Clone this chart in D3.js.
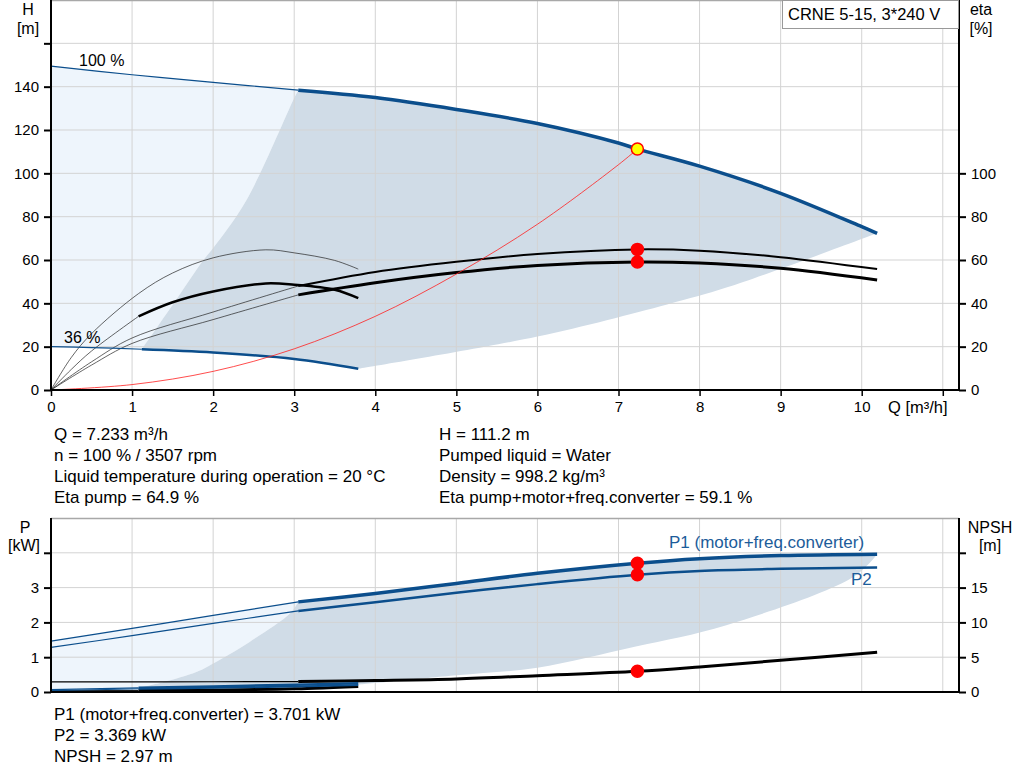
<!DOCTYPE html>
<html>
<head>
<meta charset="utf-8">
<script src="https://cdn.jsdelivr.net/npm/d3@7"></script>
<style>
body { margin: 0; background: #fff; }
text { font-family: "Liberation Sans", Arial, sans-serif; font-size: 17px; fill: #000; }
</style>
</head>
<body>
<script>
// values (Q in m3/h)

// head curves
var q100 = [0, 1, 2, 3.05, 4, 5, 6, 7, 7.233, 8, 9, 10, 10.19]
var h100 = [149.5, 145.5, 142, 138.4, 135, 129.5, 123, 114, 111.2, 103.3, 90.8, 75.4, 72.3]
var q36 = [0, 0.5, 1.12, 2, 3, 3.79]
var h36 = [20, 19.6, 18.8, 17.3, 14.3, 9.8]

// efficiency curves
var qEta100 = [0, 0.5, 1, 2, 3.05, 4, 5, 6, 7.233, 8, 9, 10.19]
var etaPump100 = [0, 13, 24, 36, 48, 54.5, 59.2, 62.8, 64.9, 64.3, 61.3, 55.8]
var etaTot100 = [0, 11.5, 21.5, 32.5, 43.9, 49.5, 54.2, 57.5, 59.1, 58.6, 56.2, 50.8]
var qEta36 = [0, 0.25, 0.5, 1.08, 1.5, 2, 2.65, 3, 3.5, 3.79]
var etaPump36 = [0, 15, 26, 44.5, 54, 61, 64.7, 63.3, 59.8, 55.8]
var etaTot36 = [0, 9.5, 18, 34, 40.5, 45.5, 49.2, 48.6, 46.3, 42.4]

// system curve
var qSys = [0, 1, 2, 3, 4, 5, 6, 7, 7.233]
var hSys = [0, 2.5, 8.6, 19, 34, 53.5, 76.5, 104, 111.2]

// operating range edges, head chart
var edgeQ = [1.12, 1.55, 1.88, 2.0, 2.41, 2.99, 3.05]
var edgeH = [18.8, 42, 60, 65.5, 87.6, 134, 138.4]
var lowQ = [3.79, 6.0, 7.6, 8.35, 10.19]
var lowH = [9.8, 24.7, 39.5, 47.5, 72.3]

// power / npsh curves
var qP100 = [0, 1, 2, 3.05, 4, 5, 6, 7.233, 8, 9, 10.19]
var p1_100 = [1.46, 1.83, 2.2, 2.59, 2.83, 3.12, 3.41, 3.70, 3.83, 3.92, 3.96]
var p2_100 = [1.28, 1.62, 1.97, 2.33, 2.58, 2.85, 3.10, 3.37, 3.48, 3.54, 3.58]
var npsh100 = [1.45, 1.45, 1.47, 1.5, 1.65, 1.87, 2.35, 2.97, 3.6, 4.55, 5.7]
var qP36 = [0, 1.08, 2, 3, 3.79]
var p1_36 = [0.07, 0.12, 0.16, 0.21, 0.25]
var p2_36 = [0.04, 0.09, 0.12, 0.16, 0.2]
var npsh36 = [0.19, 0.2, 0.27, 0.45, 0.8]

// operating range edges, power chart
var bEdgeQ = [1.08, 1.38, 1.8, 2.0, 2.45, 2.95, 3.05]
var bEdgeP = [0.12, 0.28, 0.58, 0.82, 1.44, 2.26, 2.59]
var bLowQ = [3.79, 5.0, 6.0, 7.2, 8.33, 9.9, 10.19]
var bLowP = [0.21, 0.48, 0.7, 1.3, 1.92, 3.31, 3.96]

// duty point
var dutyQ = 7.233
var dutyH = 111.2
var dutyEtaPump = 64.9
var dutyEtaTot = 59.1
var dutyP1 = 3.701
var dutyP2 = 3.369
var dutyNpsh = 2.97

// ticks and texts
var qTicks = [0, 1, 2, 3, 4, 5, 6, 7, 8, 9, 10, 11]
var qLabels = [0, 1, 2, 3, 4, 5, 6, 7, 8, 9, 10]
var hTicks = [0, 20, 40, 60, 80, 100, 120, 140, 160]
var hLabels = [0, 20, 40, 60, 80, 100, 120, 140]
var etaTicks = [0, 20, 40, 60, 80, 100]
var pTicks = [0, 1, 2, 3, 4]
var pLabels = [0, 1, 2, 3]
var npshTicks = [0, 5, 10, 15, 20]
var npshLabels = [0, 5, 10, 15]

var pumpName = "CRNE 5-15, 3*240 V"
var infoLeft = ["Q = 7.233 m³/h", "n = 100 % / 3507 rpm", "Liquid temperature during operation = 20 °C", "Eta pump = 64.9 %"]
var infoRight = ["H = 111.2 m", "Pumped liquid = Water", "Density = 998.2 kg/m³", "Eta pump+motor+freq.converter = 59.1 %"]
var infoBottom = ["P1 (motor+freq.converter) = 3.701 kW", "P2 = 3.369 kW", "NPSH = 2.97 m"]

var blue = "#0b4e8c"
var lightFill = "#eef5fc"
var darkFill = "#d0dce7"
var gridCol = "#d3d3d3"

var svg = d3.select("body").append("svg")
    .attr("width", 1024).attr("height", 781)

var x = d3.scaleLinear().domain([0, 11.2]).range([51, 959])
var yH = d3.scaleLinear().domain([0, 180]).range([390, 0])
var yEta = d3.scaleLinear().domain([0, 180]).range([390, 0])
var yP = d3.scaleLinear().domain([0, 5]).range([692, 518])
var yN = d3.scaleLinear().domain([0, 25]).range([692, 518])

function pts(qs, vs) { return qs.map(function(q, i) { return [q, vs[i]] }) }
function upTo(p, q) { return p.filter(function(d) { return d[0] <= q }) }
function from(p, q) { return p.filter(function(d) { return d[0] >= q }) }
function rev(p) { return p.slice().reverse() }

function makeLine(ys) {
    return d3.line().x(function(d) { return x(d[0]) }).y(function(d) { return ys(d[1]) })
        .curve(d3.curveCatmullRom.alpha(0.5))
}
var lineH = makeLine(yH)
var lineP = makeLine(yP)
var lineN = makeLine(yN)

// glue several curve pieces into one closed outline
function joinPath(gen, pieces) {
    return pieces.map(function(p, i) {
        var s = gen(p)
        return i ? "L" + s.slice(1) : s
    }).join("") + "Z"
}

var H100 = pts(q100, h100), H36 = pts(q36, h36)
var EDGE = pts(edgeQ, edgeH), LOW = pts(lowQ, lowH)
var P1 = pts(qP100, p1_100), P2 = pts(qP100, p2_100), N100 = pts(qP100, npsh100)
var P1s = pts(qP36, p1_36), P2s = pts(qP36, p2_36), N36 = pts(qP36, npsh36)
var BEDGE = pts(bEdgeQ, bEdgeP), BLOW = pts(bLowQ, bLowP)

// ---- fills ----
svg.append("path").attr("fill", lightFill)
    .attr("d", joinPath(lineH, [upTo(H100, 3.05), rev(EDGE), rev(upTo(H36, 1.12))]))
svg.append("path").attr("fill", darkFill)
    .attr("d", joinPath(lineH, [from(H100, 3.05), rev(LOW), rev(from(H36, 1.12)), EDGE]))
svg.append("path").attr("fill", lightFill)
    .attr("d", joinPath(lineP, [upTo(P1, 3.05), rev(BEDGE), rev(upTo(P1s, 1.08))]))
svg.append("path").attr("fill", darkFill)
    .attr("d", joinPath(lineP, [from(P1, 3.05), rev(BLOW), rev(from(P1s, 1.08)), BEDGE]))

// ---- grid ----
function grid(y0, y1, ys, vals) {
    var g = svg.append("g").attr("stroke", gridCol).attr("stroke-width", 1)
    g.selectAll(".v").data(qTicks.slice(1)).enter().append("line")
        .attr("x1", function(d) { return x(d) }).attr("x2", function(d) { return x(d) })
        .attr("y1", y0).attr("y2", y1)
    g.selectAll(".h").data(vals).enter().append("line")
        .attr("x1", x(0)).attr("x2", x(11.2))
        .attr("y1", function(d) { return ys(d) }).attr("y2", function(d) { return ys(d) })
}
grid(0, 390, yH, hTicks.slice(1))
grid(518, 692, yP, pTicks.slice(1))

// ---- curves ----
function curve(gen, data, col, w) {
    svg.append("path").attr("d", gen(data)).attr("fill", "none")
        .attr("stroke", col).attr("stroke-width", w)
}
var lineEta = makeLine(yEta)
var EP100 = pts(qEta100, etaPump100), ET100 = pts(qEta100, etaTot100)
var EP36 = pts(qEta36, etaPump36), ET36 = pts(qEta36, etaTot36)

curve(lineEta, EP36, "#222", 0.7)
curve(lineEta, upTo(ET36, 1.08), "#222", 0.7)
curve(lineEta, from(ET36, 1.08), "#000", 2.5)
curve(lineEta, upTo(EP100, 3.05), "#222", 0.7)
curve(lineEta, from(EP100, 3.05), "#000", 2)
curve(lineEta, upTo(ET100, 3.05), "#222", 0.7)
curve(lineEta, from(ET100, 3.05), "#000", 3)

curve(lineH, upTo(H36, 1.12), blue, 1.2)
curve(lineH, from(H36, 1.12), blue, 2.5)
curve(lineH, upTo(H100, 3.05), blue, 1.2)
curve(lineH, from(H100, 3.05), blue, 3.5)
curve(lineH, pts(qSys, hSys), "#ff2020", 0.8)

curve(lineN, upTo(N36, 1.08), "#000", 1)
curve(lineN, from(N36, 1.08), "#000", 3)
curve(lineN, upTo(N100, 3.05), "#000", 1.2)
curve(lineN, from(N100, 3.05), "#000", 3)
curve(lineP, upTo(P2s, 1.08), blue, 1)
curve(lineP, from(P2s, 1.08), blue, 2)
curve(lineP, upTo(P1s, 1.08), blue, 1.2)
curve(lineP, from(P1s, 1.08), blue, 2.5)
curve(lineP, upTo(P2, 3.05), blue, 1.2)
curve(lineP, from(P2, 3.05), blue, 2.5)
curve(lineP, upTo(P1, 3.05), blue, 1.2)
curve(lineP, from(P1, 3.05), blue, 3.5)

// ---- axes ----
function frame(y0, y1) {
    svg.append("line").attr("x1", x(0)).attr("x2", x(11.2)).attr("y1", y0 + 0.5).attr("y2", y0 + 0.5)
        .attr("stroke", "#a8a8a8").attr("stroke-width", 1.5)
    var g = svg.append("g").attr("stroke", "#000").attr("stroke-width", 2)
    g.append("line").attr("x1", x(0)).attr("x2", x(0)).attr("y1", y0).attr("y2", y1 + 1)
    g.append("line").attr("x1", x(11.2)).attr("x2", x(11.2)).attr("y1", y0).attr("y2", y1 + 1)
    g.append("line").attr("x1", x(0)).attr("x2", x(11.2)).attr("y1", y1).attr("y2", y1)
}
frame(0, 390)
frame(518, 692)

function sideAxis(axisFn, scale, ticks, labels, xPos) {
    var ax = axisFn(scale).tickValues(ticks).tickSize(7).tickPadding(5)
        .tickFormat(function(d) { return labels.indexOf(d) >= 0 ? d : "" })
    var g = svg.append("g").attr("transform", "translate(" + xPos + ",0)").call(ax)
    g.select(".domain").remove()
    g.selectAll(".tick line").attr("stroke", "#000").attr("stroke-width", 2)
    g.selectAll(".tick text").style("font-family", "Liberation Sans, Arial, sans-serif")
        .style("font-size", "15px").attr("fill", "#000")
}
sideAxis(d3.axisLeft, yH, hTicks, hLabels, x(0))
sideAxis(d3.axisRight, yEta, etaTicks, etaTicks, x(11.2))
sideAxis(d3.axisLeft, yP, pTicks, pLabels, x(0))
sideAxis(d3.axisRight, yN, npshTicks, npshLabels, x(11.2))

var xAx = d3.axisBottom(x).tickValues(qTicks).tickSize(6).tickPadding(5)
    .tickFormat(function(d) { return qLabels.indexOf(d) >= 0 ? d : "" })
var gx = svg.append("g").attr("transform", "translate(0,390)").call(xAx)
gx.select(".domain").remove()
gx.selectAll(".tick line").attr("stroke", "#000").attr("stroke-width", 1.5)
gx.selectAll(".tick text").style("font-family", "Liberation Sans, Arial, sans-serif")
    .style("font-size", "15px").attr("fill", "#000")

// ---- axis titles and labels ----
function label(t, px, py, anchor, col, size) {
    svg.append("text").attr("x", px).attr("y", py).attr("text-anchor", anchor || "start")
        .style("fill", col || "#000").style("font-size", (size || 17) + "px").text(t)
}
label("H", 28, 15, "middle", null, 16)
label("[m]", 28, 34, "middle", null, 16)
label("eta", 981, 15, "middle", null, 16)
label("[%]", 981, 34, "middle", null, 16)
label("Q [m³/h]", 888, 413, "start", null, 16.5)
label("100 %", 79, 66, "start", null, 16)
label("36 %", 64, 343, "start", null, 16)
label("P", 25, 533, "middle", null, 16)
label("[kW]", 24, 551, "middle", null, 16)
label("NPSH", 990, 533, "middle", null, 16)
label("[m]", 990, 551, "middle", null, 16)
label("P1 (motor+freq.converter)", 669, 548, "start", "#1c5c9a")
label("P2", 851, 585, "start", "#1c5c9a")

svg.append("rect").attr("x", 782.5).attr("y", 0.5).attr("width", 176).attr("height", 28)
    .attr("fill", "#fff").attr("stroke", "#999")
label(pumpName, 788, 20, "start", null, 16.5)

infoLeft.forEach(function(t, i) { label(t, 54, 440 + i * 21) })
infoRight.forEach(function(t, i) { label(t, 439, 440 + i * 21) })
infoBottom.forEach(function(t, i) { label(t, 54, 720 + i * 21) })

// ---- duty point markers ----
function dot(py, fill) {
    svg.append("circle").attr("cx", x(dutyQ)).attr("cy", py).attr("r", 6)
        .attr("fill", fill).attr("stroke", "#ff0000").attr("stroke-width", 1.5)
}
dot(yH(dutyH), "#ffff00")
dot(yEta(dutyEtaPump), "#ff0000")
dot(yEta(dutyEtaTot), "#ff0000")
dot(yP(dutyP1), "#ff0000")
dot(yP(dutyP2), "#ff0000")
dot(yN(dutyNpsh), "#ff0000")
</script>
</body>
</html>
